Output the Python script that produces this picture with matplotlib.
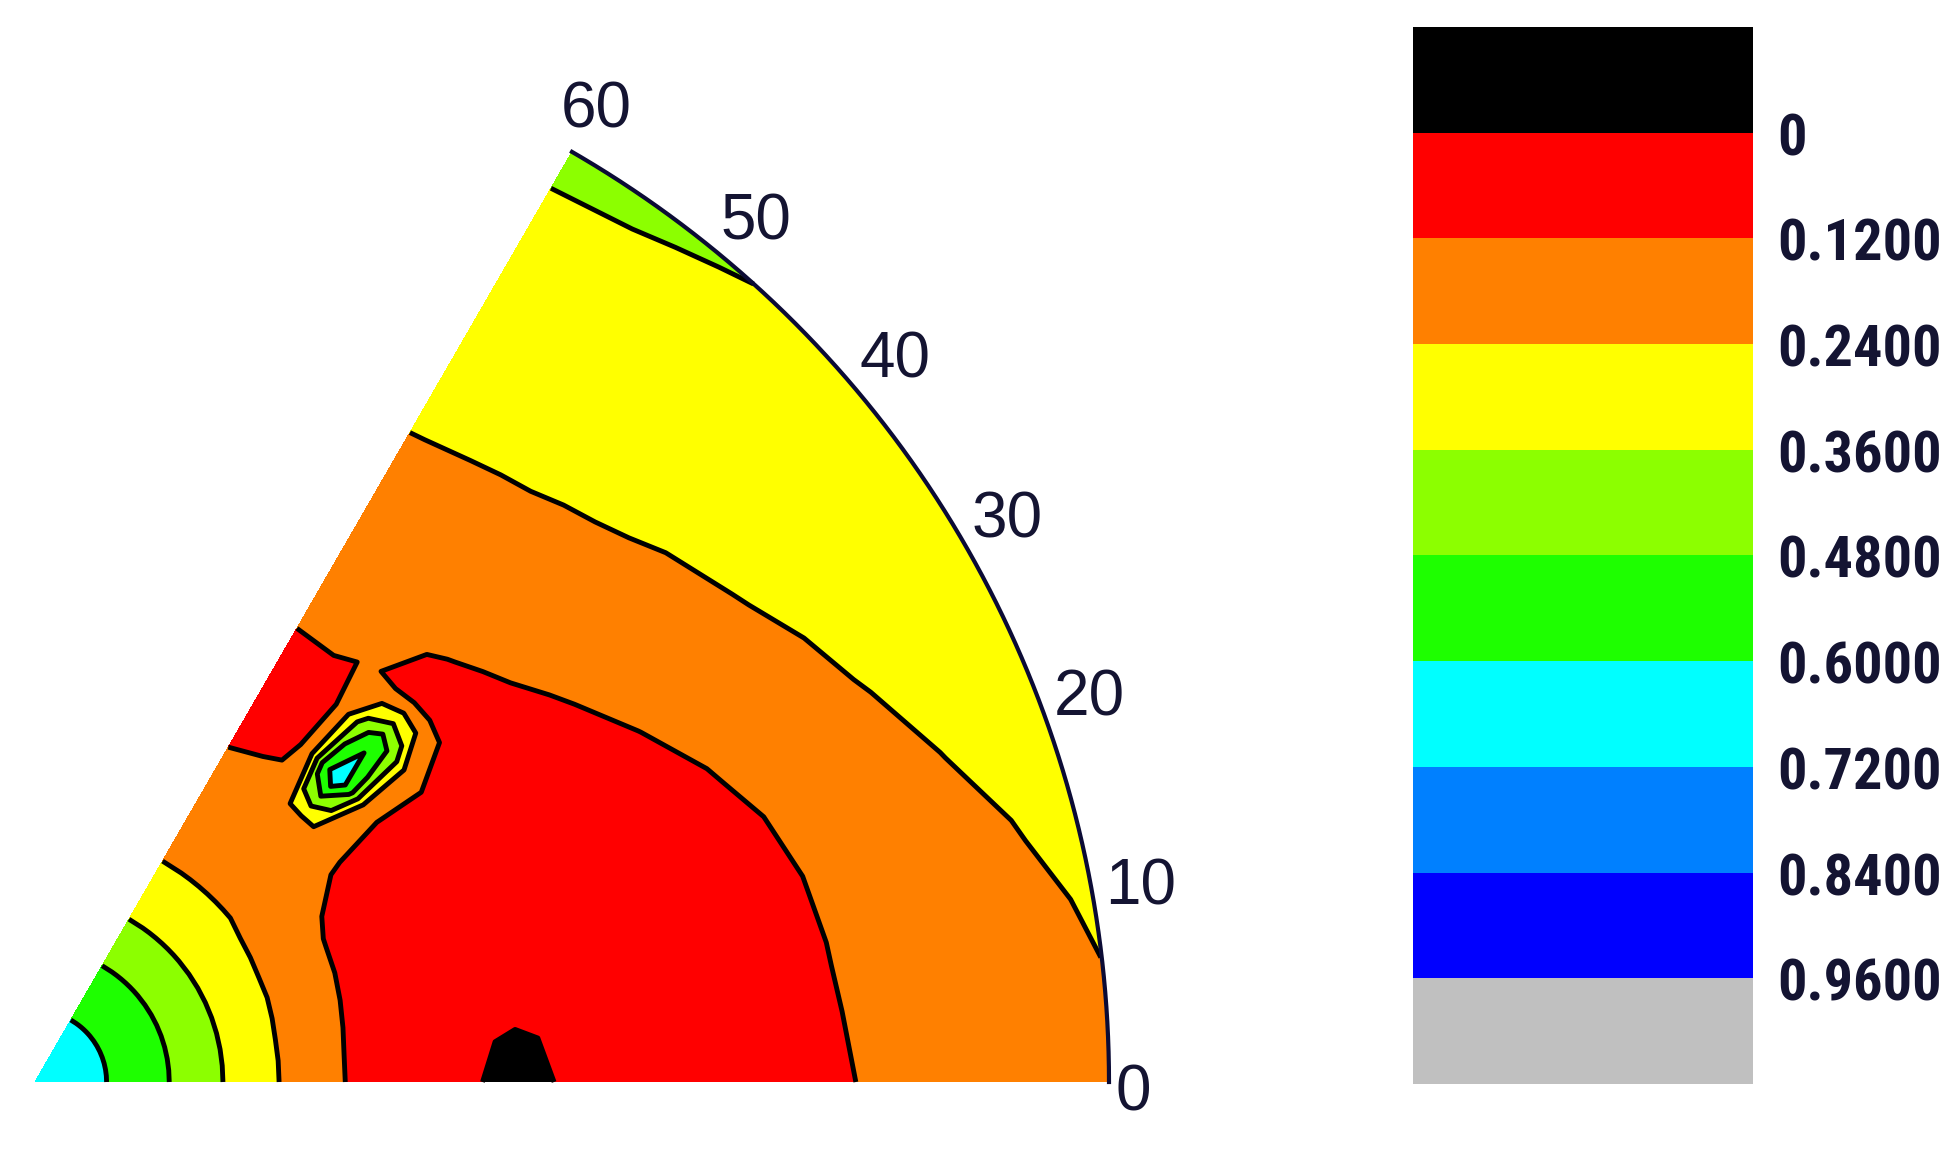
import numpy as np
import matplotlib
matplotlib.use('Agg')
import matplotlib.pyplot as plt
from matplotlib.colors import ListedColormap, BoundaryNorm
from matplotlib import font_manager, transforms
import matplotlib.cm as cm

# polar grid of the section (angle in degrees, normalised radius)
theta_deg = [0, 5, 10, 15, 20, 25, 30, 35, 40, 42.5, 45, 47.5, 50, 52.5, 55, 60]
radius = [0.0, 0.05, 0.10, 0.15, 0.20, 0.25, 0.30, 0.35, 0.40, 0.45, 0.50,
          0.55, 0.60, 0.65, 0.70, 0.75, 0.80, 0.85, 0.90, 0.95, 1.0]

# intensity, one list per angle (inner -> outer radius)
f_00 = [0.68, 0.63, 0.54, 0.42, 0.30, 0.19, 0.10, 0.07, 0.03, -0.06, 0.03,
        0.06, 0.075, 0.085, 0.093, 0.114, 0.135, 0.156, 0.177, 0.198, 0.22]
f_05 = [0.68, 0.63, 0.54, 0.42, 0.30, 0.19, 0.10, 0.07, 0.03, -0.02, 0.03,
        0.06, 0.075, 0.085, 0.094, 0.118, 0.141, 0.165, 0.188, 0.212, 0.235]
f_10 = [0.68, 0.63, 0.54, 0.42, 0.30, 0.19, 0.105, 0.075, 0.06, 0.06, 0.065,
        0.07, 0.078, 0.085, 0.094, 0.121, 0.147, 0.173, 0.200, 0.226, 0.25]
f_15 = [0.68, 0.63, 0.54, 0.42, 0.30, 0.195, 0.11, 0.08, 0.07, 0.065, 0.07,
        0.075, 0.082, 0.088, 0.096, 0.126, 0.156, 0.187, 0.217, 0.245, 0.267]
f_20 = [0.68, 0.63, 0.54, 0.42, 0.30, 0.20, 0.115, 0.085, 0.075, 0.07, 0.07,
        0.08, 0.085, 0.09, 0.105, 0.139, 0.174, 0.209, 0.242, 0.264, 0.285]
f_25 = [0.68, 0.63, 0.54, 0.42, 0.30, 0.20, 0.118, 0.09, 0.08, 0.075, 0.075,
        0.085, 0.085, 0.091, 0.127, 0.163, 0.200, 0.236, 0.259, 0.280, 0.302]
f_30 = [0.68, 0.63, 0.54, 0.42, 0.30, 0.205, 0.125, 0.095, 0.085, 0.08, 0.08,
        0.085, 0.085, 0.119, 0.155, 0.190, 0.225, 0.253, 0.274, 0.296, 0.317]
f_35 = [0.68, 0.63, 0.54, 0.42, 0.30, 0.21, 0.16, 0.105, 0.04, 0.06, 0.095,
        0.095, 0.111, 0.145, 0.179, 0.213, 0.245, 0.266, 0.288, 0.309, 0.331]
f_40 = [0.68, 0.63, 0.54, 0.42, 0.30, 0.22, 0.17, 0.20, 0.22, 0.22, 0.10,
        0.102, 0.134, 0.167, 0.20, 0.232, 0.256, 0.278, 0.299, 0.321, 0.342]
f_425 = [0.68, 0.63, 0.54, 0.42, 0.30, 0.22, 0.18, 0.23, 0.50, 0.45, 0.11,
         0.11, 0.142, 0.175, 0.208, 0.24, 0.262, 0.283, 0.305, 0.327, 0.348]
f_45 = [0.68, 0.63, 0.54, 0.42, 0.30, 0.22, 0.19, 0.235, 0.70, 0.55, 0.115,
        0.118, 0.151, 0.183, 0.216, 0.248, 0.267, 0.288, 0.310, 0.332, 0.353]
f_475 = [0.68, 0.63, 0.54, 0.42, 0.30, 0.22, 0.185, 0.23, 0.55, 0.42, 0.10,
         0.125, 0.16, 0.192, 0.224, 0.252, 0.272, 0.294, 0.316, 0.338, 0.359]
f_50 = [0.68, 0.63, 0.54, 0.42, 0.30, 0.22, 0.18, 0.20, 0.22, 0.20, 0.121,
        0.14, 0.17, 0.201, 0.231, 0.256, 0.277, 0.299, 0.321, 0.343, 0.364]
f_525 = [0.68, 0.63, 0.54, 0.42, 0.30, 0.22, 0.18, 0.17, 0.08, 0.06, 0.13,
         0.15, 0.178, 0.206, 0.234, 0.258, 0.28, 0.302, 0.324, 0.347, 0.369]
f_55 = [0.68, 0.63, 0.54, 0.42, 0.30, 0.22, 0.18, 0.14, 0.09, 0.09, 0.133,
        0.159, 0.185, 0.211, 0.237, 0.26, 0.283, 0.306, 0.328, 0.351, 0.374]
f_60 = [0.68, 0.63, 0.54, 0.42, 0.30, 0.22, 0.17, 0.13, 0.08, 0.08, 0.133,
        0.16, 0.187, 0.213, 0.241, 0.263, 0.286, 0.309, 0.332, 0.355, 0.378]

levels = [-0.12, 0.0, 0.12, 0.24, 0.36, 0.48, 0.60, 0.72, 0.84, 0.96, 1.08]
band_colors = ['#000000', '#ff0000', '#ff8000', '#ffff00', '#8cff00',
               '#1eff00', '#00ffff', '#0080ff', '#0000ff', '#c0c0c0']
tick_vals = [0.0, 0.12, 0.24, 0.36, 0.48, 0.60, 0.72, 0.84, 0.96]
tick_text = ['0', '0.1200', '0.2400', '0.3600', '0.4800', '0.6000',
             '0.7200', '0.8400', '0.9600']
angle_labels = [0, 10, 20, 30, 40, 50, 60]

Z = np.array([f_00, f_05, f_10, f_15, f_20, f_25, f_30, f_35, f_40, f_425,
              f_45, f_475, f_50, f_525, f_55, f_60]).T
T, R = np.meshgrid(np.radians(theta_deg), radius)
X = R * np.cos(T)
Y = R * np.sin(T)

cmap = ListedColormap(band_colors)
norm = BoundaryNorm(levels, cmap.N)

fig = plt.figure(figsize=(19.58, 11.49), dpi=100)
ax = fig.add_axes([0, 0, 1, 1])
ax.contourf(X, Y, Z, levels=levels, cmap=cmap, norm=norm)
ax.contour(X, Y, Z, levels=levels[1:-1], colors='k', linewidths=3.5)

# outer arc of the section
arc = np.radians(np.linspace(0, 60, 300))
ax.plot(np.cos(arc), np.sin(arc), color='#0b0b35', lw=3)

txt_col = '#141432'
for a in angle_labels:
    rr = 1.045
    x = rr * np.cos(np.radians(a))
    y = rr * np.sin(np.radians(a))
    if a == 0:
        x, y = 1.023, -0.011
    ax.text(x, y, str(a), ha='center', va='center', fontsize=46,
            family='Liberation Sans', color=txt_col)

# pixel-matched limits: apex at (35, 1082) px, radius 1074 px
ax.set_xlim(-35 / 1074, (1958 - 35) / 1074)
ax.set_ylim(-(1149 - 1082) / 1074, 1082 / 1074)
ax.axis('off')

# colour scale
cax = fig.add_axes([0.7217, 0.0566, 0.1736, 0.920])
sm = cm.ScalarMappable(norm=norm, cmap=cmap)
cb = fig.colorbar(sm, cax=cax, spacing='uniform')
cb.set_ticks([])
cb.minorticks_off()
cax.tick_params(which='both', length=0)
cb.outline.set_visible(False)
cax.invert_yaxis()

# narrow bold face for the scale labels, if one is installed
have = {f.name for f in font_manager.fontManager.ttflist}
cb_font, cb_size, cb_stretch = 'DejaVu Sans', 31, 'normal'
for name, size in [('Liberation Sans Narrow', 42), ('Roboto Condensed', 42),
                   ('Open Sans Condensed', 40), ('DejaVu Sans Condensed', 34)]:
    if name in have:
        cb_font, cb_size = name, size
        break
else:
    if any(f.name == 'DejaVu Sans' and f.stretch == 'condensed'
           for f in font_manager.fontManager.ttflist):
        cb_size, cb_stretch = 35, 'condensed'

trans = transforms.offset_copy(cax.get_yaxis_transform(), fig=fig, y=-7, units='dots')
for v, s in zip(tick_vals, tick_text):
    cax.text(1.071, v, s, transform=trans, ha='left', va='center',
             fontsize=cb_size, family=cb_font, fontweight='bold',
             fontstretch=cb_stretch, color=txt_col)

plt.savefig('out.png', dpi=100)
